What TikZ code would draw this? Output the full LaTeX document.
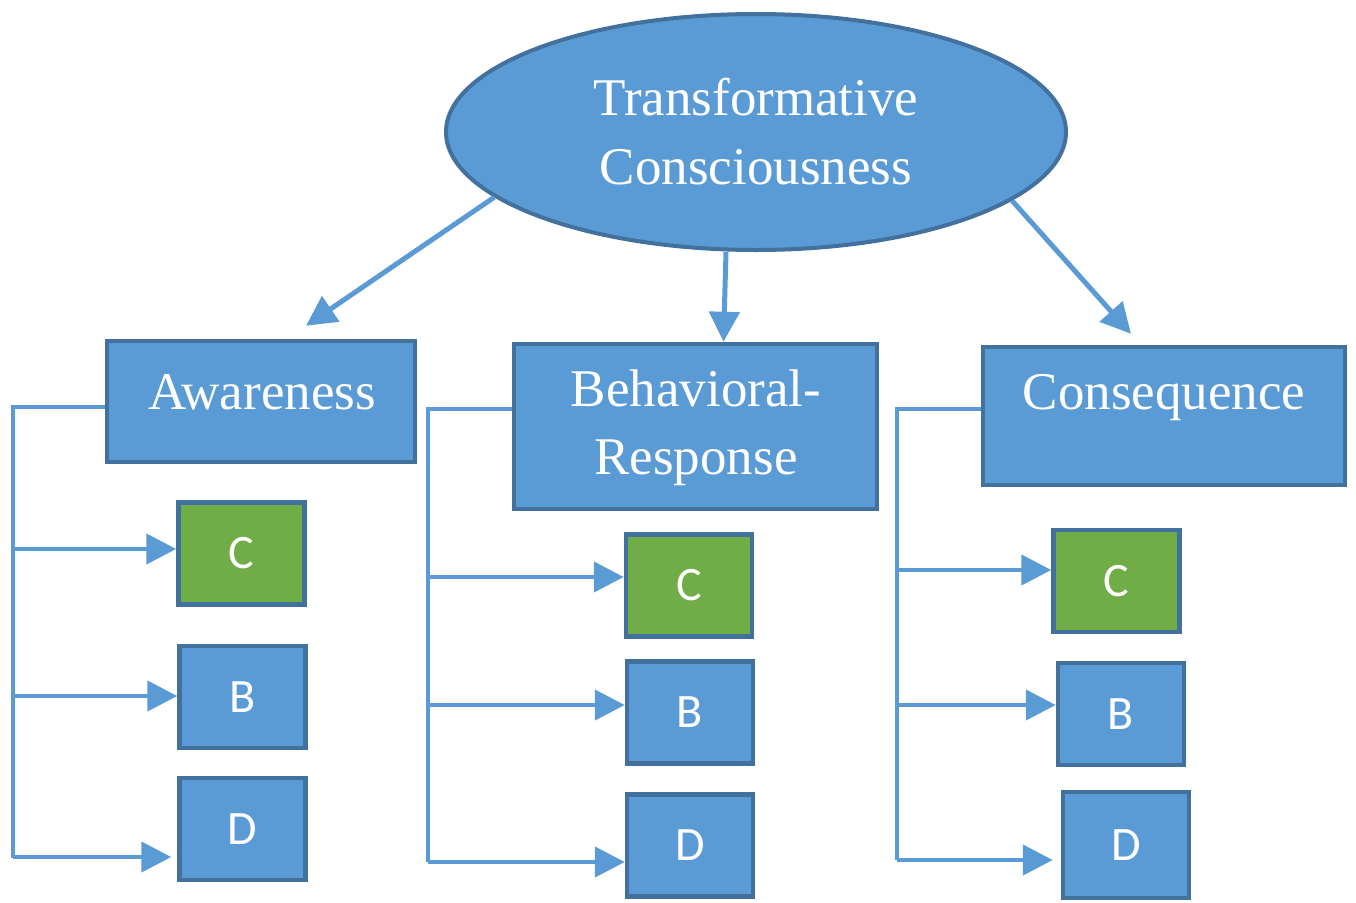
\documentclass[tikz,border=0pt]{standalone}
\usepackage{fontspec}
\setmainfont{Liberation Serif}
\newfontfamily\letterfont{Carlito}
\usetikzlibrary{shapes.geometric,arrows.meta}
\definecolor{boxblue}{HTML}{5B9BD5}
\definecolor{edgeblue}{HTML}{41719C}
\definecolor{boxgreen}{HTML}{70AD47}
\begin{document}
\begin{tikzpicture}[x=1pt,y=-1pt,
  rootnode/.style={ellipse,draw=edgeblue,fill=boxblue,line width=4pt,inner sep=0pt,
    minimum width=620pt,minimum height=236pt,text=white,align=center,
    font=\fontsize{53}{69}\selectfont},
  mainbox/.style={rectangle,draw=edgeblue,fill=boxblue,line width=4.5pt,inner sep=0pt},
  mainlabel/.style={text=white,align=center,inner sep=0pt,font=\fontsize{53}{68}\selectfont},
  itembox/.style={rectangle,draw=edgeblue,fill=boxblue,line width=4.5pt,inner sep=0pt,
    minimum width=126pt,minimum height=102pt,text=white,font=\letterfont\fontsize{48}{52}\selectfont},
  greenbox/.style={itembox,fill=boxgreen},
  bigarrow/.style={draw=boxblue,line width=5pt,-{Triangle[length=30pt,width=30pt]}},
  branch/.style={draw=boxblue,line width=3.5pt},
  brancharrow/.style={draw=boxblue,line width=4.5pt,-{Triangle[length=30pt,width=30pt]}}]
\useasboundingbox (0,0) rectangle (1356,902);

% top concept
\node[rootnode] (tc) at (756,132) {Transformative\\Consciousness};

% three dimensions
\node[mainbox,minimum width=308pt,minimum height=121pt] (aw) at (261,401.5) {};
\node[mainbox,minimum width=363pt,minimum height=165pt] (bh) at (695.5,426.5) {};
\node[mainbox,minimum width=362pt,minimum height=138pt] (cq) at (1164,416) {};
\node[mainlabel] (awt) at (262,392) {Awareness};
\node[mainlabel] (bht) at (696,428) {Behavioral-\\Response};
\node[mainlabel] (cqt) at (1164,398) {Consequence};

% item boxes
\node[greenbox] (c1) at (241.5,553.5) {C};
\node[itembox]  (b1) at (242.5,697) {B};
\node[itembox]  (d1) at (242.5,829) {D};
\node[greenbox] (c2) at (689,585.5) {C};
\node[itembox]  (b2) at (690,712.5) {B};
\node[itembox]  (d2) at (690,845.5) {D};
\node[greenbox] (c3) at (1116.5,581) {C};
\node[itembox]  (b3) at (1121,714) {B};
\node[itembox,minimum height=106pt] (d3) at (1126,845) {D};

% arrows from the top concept
\draw[bigarrow] (tc.194) -- ([shift={(45,-13)}]aw.north);
\draw[bigarrow] ([xshift=-30pt]tc.south) -- ([xshift=28pt]bh.north);
\draw[bigarrow] (tc.345.4) -- ([shift={(-33,-11)}]cq.north);

% branch coordinates
\coordinate (t1) at (13,407);
\coordinate (e1) at (13,858);
\coordinate (p1c) at (13,549);
\coordinate (p1b) at (13,696);
\coordinate (p1d) at (13,857);
\coordinate (t2) at (428,409);
\coordinate (e2) at (428,862);
\coordinate (p2c) at (428,577);
\coordinate (p2b) at (428,705);
\coordinate (p2d) at (428,862);
\coordinate (t3) at (897,409);
\coordinate (e3) at (897,860);
\coordinate (p3c) at (897,570);
\coordinate (p3b) at (897,705);
\coordinate (p3d) at (897,860);

% branch lines
\draw[branch] (t1 -| aw.west) -- (t1) -- (e1);
\draw[brancharrow] (p1c) -- (p1c -| c1.west);
\draw[brancharrow] (p1b) -- (p1b -| b1.west);
\draw[brancharrow] (p1d) -- ([xshift=-6pt]p1d -| d1.west);

\draw[branch] (t2 -| bh.west) -- (t2) -- (e2);
\draw[brancharrow] (p2c) -- (p2c -| c2.west);
\draw[brancharrow] (p2b) -- (p2b -| b2.west);
\draw[brancharrow] (p2d) -- (p2d -| d2.west);

\draw[branch] (t3 -| cq.west) -- (t3) -- (e3);
\draw[brancharrow] (p3c) -- (p3c -| c3.west);
\draw[brancharrow] (p3b) -- (p3b -| b3.west);
\draw[brancharrow] (p3d) -- ([xshift=-8pt]p3d -| d3.west);
\end{tikzpicture}
\end{document}
